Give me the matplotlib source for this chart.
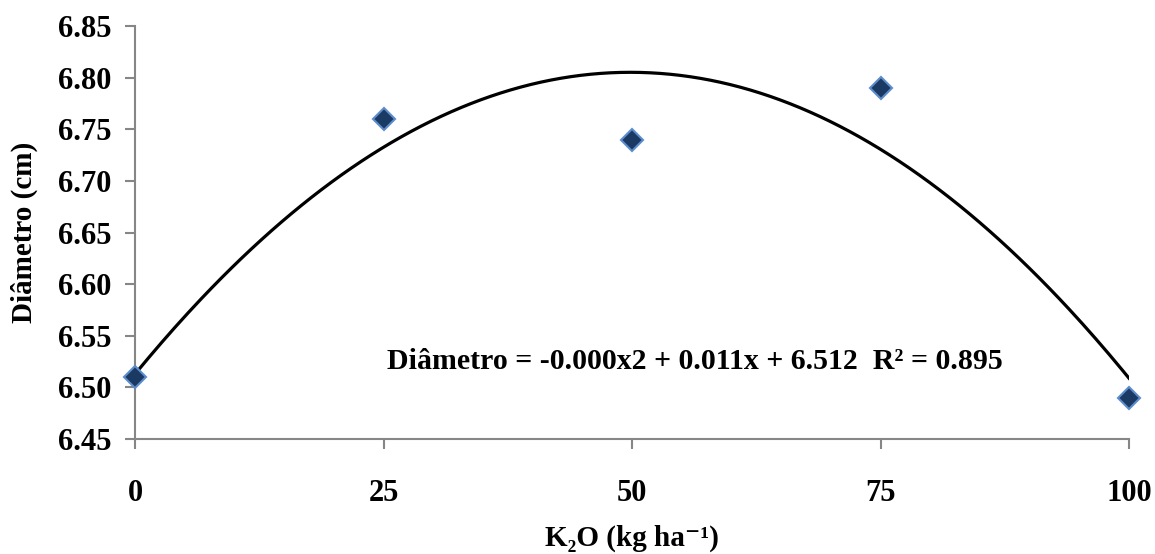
import numpy as np
import matplotlib
matplotlib.use('Agg')
import matplotlib.pyplot as plt

plt.rcParams['font.family'] = ['Liberation Serif', 'DejaVu Serif']
plt.rcParams['font.weight'] = 'bold'

# data
k2o = [0, 25, 50, 75, 100]
diametro = [6.51, 6.76, 6.74, 6.79, 6.49]
x_ticks = [0, 25, 50, 75, 100]
y_ticks = [6.45, 6.50, 6.55, 6.60, 6.65, 6.70, 6.75, 6.80, 6.85]
equation = 'Diâmetro = -0.000x2 + 0.011x + 6.512  R² = 0.895'

# quadratic trend line
coef = np.polyfit(k2o, diametro, 2)
xx = np.linspace(0, 100, 300)
yy = np.polyval(coef, xx)

fig = plt.figure(figsize=(11.55, 5.54), dpi=100)
ax = fig.add_axes([135 / 1155, 115 / 554, 994 / 1155, 413 / 554])

ax.plot(xx, yy, color='black', lw=2.3, zorder=2)
ax.plot(k2o, diametro, linestyle='none', marker='D', ms=11,
        markerfacecolor='#1b3a63', markeredgecolor='#5b8ccb', markeredgewidth=1.5,
        zorder=3, clip_on=False)

ax.set_xlim(0, 100)
ax.set_ylim(6.45, 6.85)
ax.set_xticks(x_ticks)
ax.set_yticks(y_ticks)
ax.set_yticklabels(['%.2f' % v for v in y_ticks])

for s in ['top', 'right']:
    ax.spines[s].set_visible(False)
for s in ['left', 'bottom']:
    ax.spines[s].set_color('#868686')
    ax.spines[s].set_linewidth(1.5)

ax.tick_params(axis='both', colors='#868686', width=1.5, labelcolor='black', labelsize=22)
ax.tick_params(axis='y', length=7, pad=10)
ax.tick_params(axis='x', length=7, pad=22)

ax.text(25.4, 6.5255, equation, fontsize=21.5, fontweight='bold', va='center', ha='left')

ax.set_ylabel('Diâmetro (cm)', fontsize=21, fontweight='bold', labelpad=14)
ax.set_xlabel('K₂O (kg ha⁻¹)', fontsize=21, fontweight='bold', labelpad=12)

fig.savefig('out.png', dpi=100)
